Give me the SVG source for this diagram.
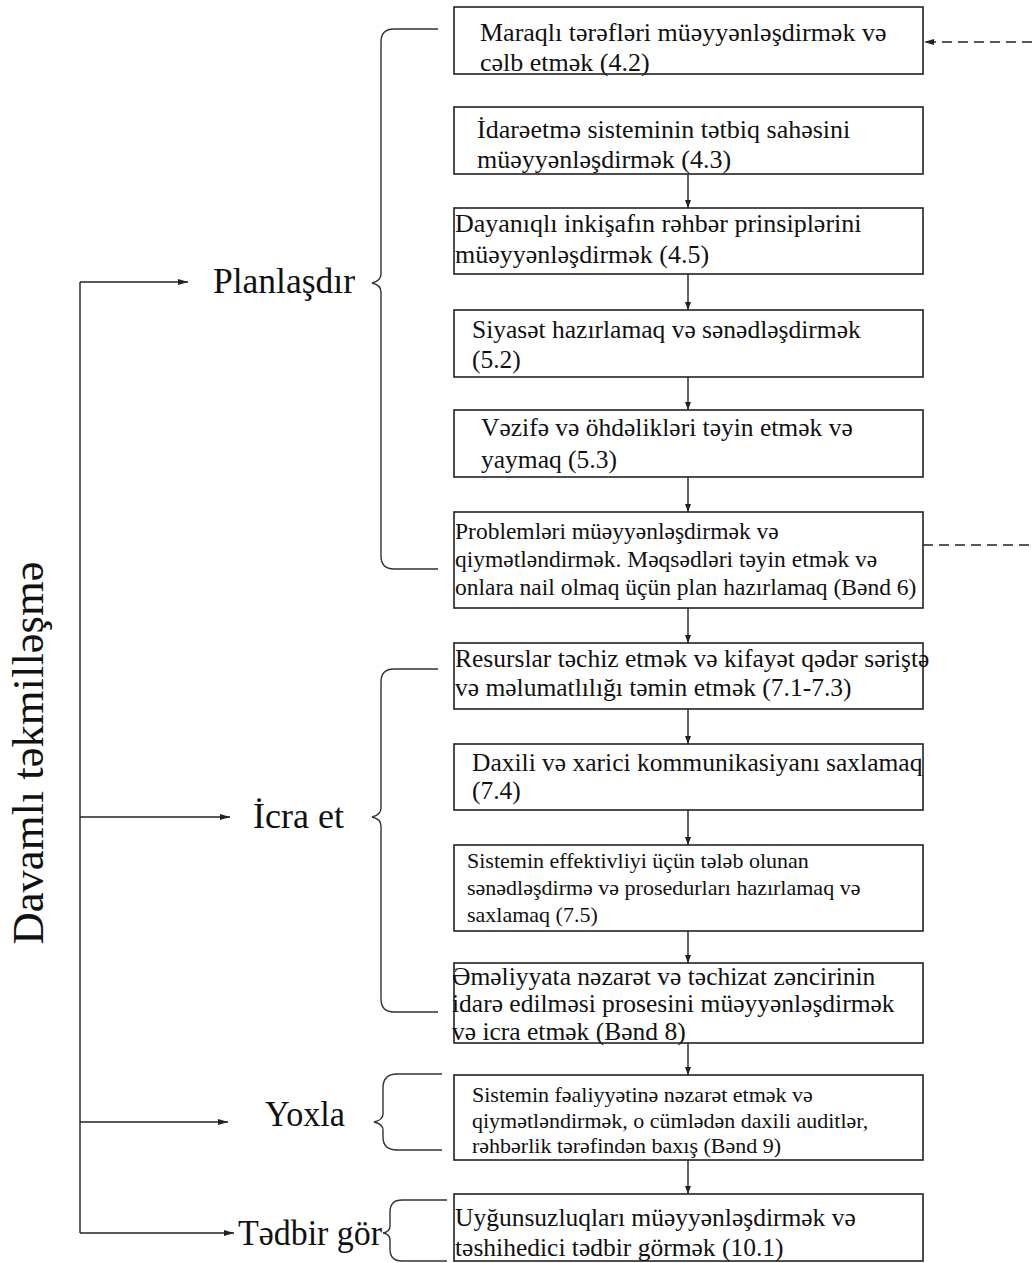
<svg xmlns="http://www.w3.org/2000/svg" width="1032" height="1263" viewBox="0 0 1032 1263">
<style>
text{font-family:"Liberation Serif","DejaVu Serif","Times New Roman",serif;fill:#111}
.box{fill:#fff;stroke:#222;stroke-width:1.6}
.ln{fill:none;stroke:#222;stroke-width:1.4}
.br{fill:none;stroke:#333;stroke-width:1.4}
.dash{fill:none;stroke:#222;stroke-width:1.4;stroke-dasharray:10 6}
.t26{font-size:26px}.t25{font-size:25.5px}.t23{font-size:23.5px}.t22{font-size:22px}
.lbl{font-size:35px}
</style>
<defs>
<marker id="ah" viewBox="0 0 10 6" refX="10" refY="3" markerWidth="10" markerHeight="6" markerUnits="userSpaceOnUse" orient="auto"><path d="M0,0 L10,3 L0,6 z" fill="#222"/></marker>
<marker id="ahs" viewBox="0 0 8 6" refX="8" refY="3" markerWidth="8" markerHeight="6" markerUnits="userSpaceOnUse" orient="auto"><path d="M0,0 L8,3 L0,6 z" fill="#222"/></marker>
</defs>
<text style="font-size:45px" text-anchor="middle" transform="translate(43,753) rotate(-90)" textLength="383" lengthAdjust="spacingAndGlyphs">Davamlı təkmilləşmə</text>
<g id="connectors">
<line class="ln" x1="80" y1="282" x2="80" y2="1233"/>
<line class="ln" x1="80" y1="282" x2="188" y2="282" marker-end="url(#ah)"/>
<line class="ln" x1="80" y1="817" x2="230" y2="817" marker-end="url(#ah)"/>
<line class="ln" x1="80" y1="1122" x2="228" y2="1122" marker-end="url(#ah)"/>
<line class="ln" x1="80" y1="1233" x2="234" y2="1233" marker-end="url(#ah)"/>
<line class="ln" x1="688" y1="174" x2="688" y2="208" marker-end="url(#ahs)"/>
<line class="ln" x1="688" y1="274" x2="688" y2="310" marker-end="url(#ahs)"/>
<line class="ln" x1="688" y1="377" x2="688" y2="410" marker-end="url(#ahs)"/>
<line class="ln" x1="688" y1="477" x2="688" y2="512" marker-end="url(#ahs)"/>
<line class="ln" x1="688" y1="608" x2="688" y2="643" marker-end="url(#ahs)"/>
<line class="ln" x1="688" y1="709" x2="688" y2="744" marker-end="url(#ahs)"/>
<line class="ln" x1="688" y1="810" x2="688" y2="845" marker-end="url(#ahs)"/>
<line class="ln" x1="688" y1="931" x2="688" y2="963" marker-end="url(#ahs)"/>
<line class="ln" x1="688" y1="1043" x2="688" y2="1075" marker-end="url(#ahs)"/>
<line class="ln" x1="688" y1="1160" x2="688" y2="1194" marker-end="url(#ahs)"/>
<line class="dash" x1="1032" y1="42" x2="924" y2="42" marker-end="url(#ah)"/>
<line class="dash" x1="923" y1="545" x2="1032" y2="545"/>
<path class="br" d="M438,29 H394 Q381,29 381,42 V274 Q381,281 372,283 Q381,285 381,292 V556 Q381,569 394,569 H438"/>
<path class="br" d="M438,669 H394 Q381,669 381,682 V808 Q381,815 372,817 Q381,819 381,826 V999 Q381,1012 394,1012 H438"/>
<path class="br" d="M442,1074 H397 Q383,1074 383,1088 V1114 Q383,1120 374,1122 Q383,1124 383,1130 V1137 Q383,1150 397,1150 H442"/>
<path class="br" d="M447,1200 H402 Q390,1200 390,1212 V1226 Q390,1232 383,1233 Q390,1234 390,1240 V1249 Q390,1261 402,1261 H447"/>
</g>
<g id="label-plan"><text class="lbl" x="213" y="293" textLength="142" lengthAdjust="spacingAndGlyphs">Planlaşdır</text></g>
<g id="label-icra"><text class="lbl" x="253" y="828" textLength="91" lengthAdjust="spacingAndGlyphs">İcra et</text></g>
<g id="label-yoxla"><text class="lbl" x="265" y="1126" textLength="80" lengthAdjust="spacingAndGlyphs">Yoxla</text></g>
<g id="label-tedbir"><text class="lbl" x="238" y="1245" textLength="144" lengthAdjust="spacingAndGlyphs">Tədbir gör</text></g>
<g id="n1"><rect class="box" x="454" y="7" width="469" height="67"/>
<text class="t26" x="480" y="41">Maraqlı tərəfləri müəyyənləşdirmək və</text>
<text class="t26" x="480" y="71">cəlb etmək (4.2)</text></g>
<g id="n2"><rect class="box" x="454" y="107" width="469" height="67"/>
<text class="t26" x="477" y="138">İdarəetmə sisteminin tətbiq sahəsini</text>
<text class="t26" x="477" y="168">müəyyənləşdirmək (4.3)</text></g>
<g id="n3"><rect class="box" x="454" y="208" width="469" height="66"/>
<text class="t26" x="455" y="232">Dayanıqlı inkişafın rəhbər prinsiplərini</text>
<text class="t26" x="455" y="263">müəyyənləşdirmək (4.5)</text></g>
<g id="n4"><rect class="box" x="454" y="310" width="469" height="67"/>
<text class="t25" x="472" y="338">Siyasət hazırlamaq və sənədləşdirmək</text>
<text class="t25" x="472" y="368">(5.2)</text></g>
<g id="n5"><rect class="box" x="454" y="410" width="469" height="67"/>
<text class="t25" x="481" y="436">Vəzifə və öhdəlikləri təyin etmək və</text>
<text class="t25" x="481" y="468">yaymaq (5.3)</text></g>
<g id="n6"><rect class="box" x="454" y="512" width="469" height="96"/>
<text class="t23" x="455" y="539">Problemləri müəyyənləşdirmək və</text>
<text class="t23" x="455" y="567">qiymətləndirmək. Məqsədləri təyin etmək və</text>
<text class="t23" x="455" y="595">onlara nail olmaq üçün plan hazırlamaq (Bənd 6)</text></g>
<g id="n7"><rect class="box" x="454" y="643" width="469" height="66"/>
<text class="t25" x="455" y="667">Resurslar təchiz etmək və kifayət qədər səriştə</text>
<text class="t25" x="455" y="696">və məlumatlılığı təmin etmək (7.1-7.3)</text></g>
<g id="n8"><rect class="box" x="454" y="744" width="469" height="66"/>
<text class="t25" x="472" y="771">Daxili və xarici kommunikasiyanı saxlamaq</text>
<text class="t25" x="472" y="799">(7.4)</text></g>
<g id="n9"><rect class="box" x="454" y="845" width="469" height="86"/>
<text class="t22" x="467" y="868">Sistemin effektivliyi üçün tələb olunan</text>
<text class="t22" x="467" y="895">sənədləşdirmə və prosedurları hazırlamaq və</text>
<text class="t22" x="467" y="922">saxlamaq (7.5)</text></g>
<g id="n10"><rect class="box" x="454" y="963" width="469" height="80"/>
<text class="t25" x="452" y="985">Əməliyyata nəzarət və təchizat zəncirinin</text>
<text class="t25" x="452" y="1012">idarə edilməsi prosesini müəyyənləşdirmək</text>
<text class="t25" x="452" y="1040">və icra etmək (Bənd 8)</text></g>
<g id="n11"><rect class="box" x="454" y="1075" width="469" height="85"/>
<text class="t22" x="472" y="1102">Sistemin fəaliyyətinə nəzarət etmək və</text>
<text class="t22" x="472" y="1128">qiymətləndirmək, o cümlədən daxili auditlər,</text>
<text class="t22" x="472" y="1153">rəhbərlik tərəfindən baxış (Bənd 9)</text></g>
<g id="n12"><rect class="box" x="454" y="1194" width="469" height="67"/>
<text class="t25" x="455" y="1226">Uyğunsuzluqları müəyyənləşdirmək və</text>
<text class="t25" x="455" y="1256">təshihedici tədbir görmək (10.1)</text></g>
</svg>
